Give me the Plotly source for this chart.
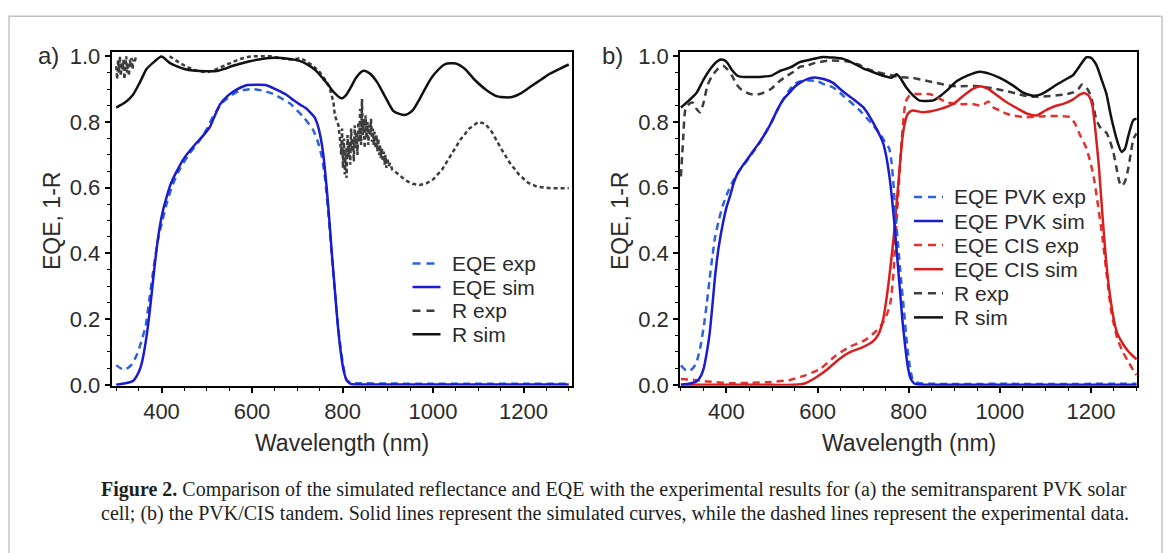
import plotly.graph_objects as go

W, H = 1168, 553

# ---------------- Panel a data ----------------
a_eqe_sim_wl = [300, 320, 337, 350, 357, 365, 372, 380, 388, 396, 404, 411, 420, 433, 450, 477, 493, 507, 518, 529,
                545, 558, 575, 588, 610, 632, 655, 676, 692, 706, 718, 728, 738, 746, 752, 757, 765, 771, 777, 783,
                789, 796, 803, 810, 818, 830, 900, 1000, 1100, 1200, 1300]
a_eqe_sim = [0.0, 0.005, 0.012, 0.04, 0.07, 0.13, 0.2, 0.3, 0.4, 0.48, 0.535, 0.57, 0.61, 0.648, 0.69, 0.736, 0.76,
             0.785, 0.82, 0.853, 0.878, 0.892, 0.905, 0.912, 0.913, 0.912, 0.898, 0.883, 0.866, 0.853, 0.843, 0.83,
             0.815, 0.787, 0.75, 0.707, 0.6, 0.5, 0.39, 0.29, 0.19, 0.1, 0.04, 0.012, 0.003, 0.001, 0.001, 0.001,
             0.001, 0.001, 0.001]

a_eqe_exp_wl = [300, 310, 320, 333, 345, 355, 365, 373, 382, 392, 402, 412, 425, 441, 460, 485, 499, 514, 536, 555,
                573, 603, 625, 647, 684, 713, 735, 746, 755, 762, 770, 777, 784, 790, 796, 802, 809, 820, 830, 900,
                1000, 1100, 1200, 1300]
a_eqe_exp = [0.06, 0.05, 0.047, 0.06, 0.09, 0.13, 0.18, 0.26, 0.35, 0.44, 0.5, 0.555, 0.61, 0.658, 0.70, 0.746,
             0.776, 0.817, 0.861, 0.882, 0.895, 0.90, 0.895, 0.885, 0.856, 0.816, 0.776, 0.737, 0.69, 0.62, 0.5,
             0.38, 0.27, 0.18, 0.11, 0.055, 0.015, 0.006, 0.005, 0.004, 0.003, 0.003, 0.003, 0.003]

a_r_sim_wl = [300, 320, 337, 352, 367, 381, 400, 418, 440, 460, 485, 522, 540, 558, 595, 640, 684, 705, 721, 740,
              757, 770, 780, 798, 808, 817, 830, 846, 860, 876, 895, 912, 927, 940, 955, 970, 990, 1003, 1027, 1050,
              1070, 1093, 1120, 1142, 1160, 1175, 1195, 1216, 1240, 1257, 1280, 1300]
a_r_sim = [0.844, 0.86, 0.883, 0.92, 0.961, 0.98, 0.999, 0.98, 0.966, 0.958, 0.955, 0.955, 0.962, 0.971, 0.985,
           0.995, 0.992, 0.986, 0.976, 0.958, 0.932, 0.91, 0.892, 0.872, 0.882, 0.902, 0.935, 0.956, 0.948, 0.922,
           0.875, 0.834, 0.824, 0.822, 0.835, 0.869, 0.92, 0.946, 0.976, 0.978, 0.962, 0.927, 0.895, 0.878, 0.875,
           0.876, 0.888, 0.908, 0.93, 0.946, 0.962, 0.975]

a_r_exp_wl = [300, 302, 304, 306, 308, 310, 312, 314, 316, 318, 320, 322, 324, 326, 328, 330, 332, 334, 336, 338,
              340, 343, 346, 380,
              418, 440, 460, 480, 500, 520, 545, 570, 590, 600, 640, 682, 698, 706, 720, 735, 750, 765, 772, 780,
              783, 791,
              795, 797, 799, 801, 803, 805, 807, 809, 811, 813, 815, 817, 819, 821, 823, 825, 827, 829, 831, 833,
              835, 837, 839, 841, 843, 845, 847, 849, 851, 853, 855, 857, 859, 861, 863, 865, 867, 869, 871, 873,
              875, 877, 879, 881, 883, 885, 887, 889, 891, 893, 895, 897, 899, 902, 905, 910,
              920, 930, 940, 955, 970, 985, 1000, 1020, 1040, 1060, 1080, 1100, 1115, 1130, 1150, 1170, 1190, 1210,
              1230, 1260, 1300]
a_r_exp = [0.97, 0.93, 0.99, 0.95, 1.0, 0.94, 0.98, 0.96, 0.99, 0.93, 0.97, 1.0, 0.95, 0.98, 0.94, 0.99, 0.97,
           0.995, 0.96, 0.99, 0.98, 0.995, 0.99, None,
           1.0, 0.98, 0.965, 0.955, 0.951, 0.96, 0.975, 0.99, 0.998, 1.0, 1.0, 0.99, 0.992, 0.995, 0.985, 0.971,
           0.951, 0.922, 0.902, 0.86, 0.82, 0.79,
           0.74, 0.70, 0.78, 0.66, 0.75, 0.64, 0.72, 0.63, 0.76, 0.69, 0.74, 0.67, 0.78, 0.71, 0.75, 0.68, 0.79,
           0.72, 0.77, 0.70, 0.80, 0.74, 0.84, 0.73, 0.87, 0.76, 0.81, 0.72, 0.82, 0.75, 0.80, 0.73, 0.79, 0.76,
           0.81, 0.74, 0.78, 0.73, 0.77, 0.72, 0.76, 0.71, 0.75, 0.70, 0.73, 0.69, 0.72, 0.68, 0.71, 0.67, 0.70,
           0.66, 0.69, 0.665, 0.675, 0.655,
           0.645, 0.632, 0.622, 0.612, 0.608, 0.613, 0.625, 0.655, 0.70, 0.745, 0.78, 0.80, 0.795, 0.77, 0.72,
           0.675, 0.64, 0.615, 0.603, 0.598, 0.598]

# ---------------- Panel b data ----------------
b_pvk_sim_wl = [300, 320, 334, 343, 350, 357, 363, 369, 375, 383, 392, 400, 408, 416, 425, 437, 449, 462, 474, 487,
                499, 511, 524, 539, 548, 561, 580, 598, 615, 634, 648, 663, 680, 700, 715, 729, 738, 744, 750, 755,
                759, 763, 768, 774, 780, 786, 792, 798, 804, 812, 825, 900, 1000, 1100, 1200, 1300]
b_pvk_sim = [0.0, 0.004, 0.01, 0.025, 0.05, 0.1, 0.156, 0.24, 0.33, 0.42, 0.49, 0.54, 0.575, 0.615, 0.645, 0.67,
             0.693, 0.718, 0.741, 0.77, 0.80, 0.835, 0.868, 0.89, 0.905, 0.919, 0.932, 0.935, 0.93, 0.919, 0.902,
             0.885, 0.868, 0.845, 0.815, 0.78, 0.755, 0.735, 0.70, 0.66, 0.62, 0.57, 0.50, 0.40, 0.30, 0.20, 0.12,
             0.055, 0.02, 0.004, 0.001, 0.0, 0.0, 0.0, 0.0, 0.0]

b_pvk_exp_wl = [300, 310, 318, 326, 334, 342, 350, 357, 363, 369, 375, 383, 392, 404, 416, 430, 449, 474, 499, 515,
                530, 548, 565, 581, 598, 614, 634, 656, 689, 722, 738, 750, 757, 762, 766, 771, 777, 783, 790, 796,
                802, 808, 815, 830, 1000, 1300]
b_pvk_exp = [0.059, 0.045, 0.042, 0.05, 0.068, 0.11, 0.176, 0.25, 0.322, 0.39, 0.449, 0.5, 0.546, 0.59, 0.624,
             0.655, 0.69, 0.74, 0.80, 0.845, 0.88, 0.915, 0.925, 0.926, 0.925, 0.915, 0.905, 0.88, 0.84, 0.79,
             0.761, 0.735, 0.72, 0.68, 0.62, 0.52, 0.42, 0.322, 0.22, 0.127, 0.06, 0.02, 0.008, 0.004, 0.003, 0.003]

b_cis_sim_wl = [300, 400, 500, 548, 573, 598, 623, 647, 672, 697, 722, 734, 744, 752, 760, 767, 774, 780, 786, 792,
                798, 808, 829, 846, 870, 898, 920, 940, 956, 975, 990, 1015, 1040, 1060, 1081, 1100, 1120, 1139,
                1160, 1175, 1185, 1195, 1203, 1210, 1217, 1225, 1233, 1241, 1250, 1258, 1270, 1280, 1290, 1300]
b_cis_sim = [0.0, 0.0, 0.0, 0.0, 0.005, 0.024, 0.049, 0.078, 0.10, 0.113, 0.133, 0.155, 0.2, 0.27, 0.36, 0.45,
             0.56, 0.66, 0.75, 0.80, 0.825, 0.835, 0.83, 0.832, 0.84, 0.855, 0.88, 0.90, 0.909, 0.90, 0.885, 0.86,
             0.84, 0.825, 0.82, 0.835, 0.848, 0.855, 0.868, 0.883, 0.888, 0.88, 0.85, 0.77, 0.67, 0.52, 0.38, 0.28,
             0.2, 0.156, 0.125, 0.105, 0.09, 0.078]

b_cis_exp_wl = [300, 330, 360, 408, 450, 491, 540, 573, 606, 639, 672, 705, 730, 746, 759, 766, 771, 777, 783, 788,
                793, 800, 809, 830, 846, 862, 883, 905, 920, 940, 956, 966, 975, 986, 1000, 1015, 1029, 1050, 1068,
                1090, 1109, 1130, 1154, 1165, 1176, 1190, 1205, 1215, 1225, 1235, 1245, 1258, 1270, 1283, 1295, 1300]
b_cis_exp = [0.018, 0.015, 0.01, 0.005, 0.006, 0.008, 0.015, 0.029, 0.049, 0.088, 0.117, 0.137, 0.166, 0.195,
             0.244, 0.33, 0.45, 0.58, 0.712, 0.80, 0.86, 0.878, 0.885, 0.885, 0.885, 0.875, 0.86, 0.855, 0.854,
             0.855, 0.85, 0.855, 0.862, 0.844, 0.835, 0.825, 0.82, 0.815, 0.815, 0.817, 0.818, 0.818, 0.815, 0.795,
             0.76, 0.72, 0.64, 0.55, 0.45, 0.33, 0.22, 0.14, 0.1, 0.068, 0.039, 0.03]

b_r_sim_wl = [300, 315, 334, 350, 367, 380, 388, 395, 403, 412, 425, 440, 458, 480, 499, 517, 540, 561, 585, 612,
              635, 656, 680, 700, 725, 751, 763, 773, 781, 795, 810, 824, 840, 854, 870, 887, 905, 930, 956, 975,
              1000, 1030, 1050, 1073, 1090, 1110, 1125, 1145, 1161, 1175, 1190, 1200, 1212, 1223, 1234, 1242, 1249,
              1258, 1267, 1275, 1282, 1293, 1300]
b_r_sim = [0.844, 0.862, 0.888, 0.93, 0.966, 0.985, 0.99, 0.988, 0.978, 0.958, 0.94, 0.937, 0.937, 0.938, 0.941,
           0.955, 0.966, 0.982, 0.99, 0.998, 0.996, 0.992, 0.978, 0.963, 0.95, 0.938, 0.935, 0.945, 0.935, 0.904,
           0.88, 0.865, 0.864, 0.866, 0.88, 0.9, 0.924, 0.942, 0.953, 0.948, 0.934, 0.91, 0.89, 0.88, 0.884, 0.9,
           0.914, 0.93, 0.943, 0.97, 0.997, 0.995, 0.973, 0.93, 0.885, 0.83, 0.787, 0.74, 0.709, 0.72, 0.758, 0.806,
           0.81]

b_r_exp_wl = [300, 305, 310, 318, 326, 334, 342, 350, 358, 367, 380, 392, 402, 412, 422, 433, 450, 466, 483, 499,
              517, 532, 550, 561, 573, 595, 627, 663, 690, 707, 730, 759, 779, 809, 830, 861, 883, 905, 956, 985,
              1015, 1040, 1066, 1090, 1117, 1140, 1161, 1172, 1180, 1190, 1198, 1205, 1212, 1222, 1234, 1242, 1249,
              1256, 1263, 1268, 1275, 1282, 1288, 1293, 1300]
b_r_exp = [0.634, 0.75, 0.839, 0.855, 0.859, 0.84, 0.829, 0.86, 0.91, 0.937, 0.96, 0.971, 0.96, 0.941, 0.915,
           0.898, 0.886, 0.883, 0.89, 0.902, 0.925, 0.94, 0.955, 0.968, 0.97, 0.98, 0.987, 0.985, 0.975, 0.963,
           0.952, 0.943, 0.937, 0.934, 0.928, 0.919, 0.912, 0.909, 0.909, 0.902, 0.894, 0.885, 0.877, 0.877, 0.88,
           0.883, 0.89, 0.9, 0.914, 0.905, 0.885, 0.85, 0.806, 0.78, 0.767, 0.74, 0.709, 0.66, 0.615, 0.605, 0.62,
           0.66, 0.71, 0.748, 0.765]

# ---------------- text ----------------
x_title = "Wavelength (nm)"
y_title = "EQE, 1-R"
legend_a = ["EQE exp", "EQE sim", "R exp", "R sim"]
legend_b = ["EQE PVK exp", "EQE PVK sim", "EQE CIS exp", "EQE CIS sim", "R exp", "R sim"]
caption_1 = ("<b>Figure 2.</b> Comparison of the simulated reflectance and EQE with the experimental results "
             "for (a) the semitransparent PVK solar")
caption_2 = ("cell; (b) the PVK/CIS tandem. Solid lines represent the simulated curves, while the dashed lines "
             "represent the experimental data.")

# ---------------- styles ----------------
BLUE_S, BLUE_D = "#1a1ccd", "#2e62da"
RED_S, RED_D = "#d71f1f", "#e2322f"
BLACK_S, GRAY_D = "#111111", "#3d3d3d"
LW = 2.5
DASH = "7px,5px"
DOTDASH = "4px,3px"
SANS = "Liberation Sans, Arial, sans-serif"
SERIF = "Liberation Serif, Times New Roman, serif"
TXT = "#2b2b2b"


def px(x):
    return x / W


def py(y):
    return 1 - y / H


fig = go.Figure()


def add(xv, yv, color, dash, xa, ya, shape="spline"):
    fig.add_trace(go.Scatter(x=xv, y=yv, mode="lines", xaxis=xa, yaxis=ya, showlegend=False,
                             hoverinfo="skip", connectgaps=False,
                             line=dict(color=color, width=LW, dash=dash, shape=shape, smoothing=0.6)))


# panel a
add(a_r_exp_wl, a_r_exp, GRAY_D, DOTDASH, "x", "y", shape="linear")
add(a_r_sim_wl, a_r_sim, BLACK_S, "solid", "x", "y")
add(a_eqe_exp_wl, a_eqe_exp, BLUE_D, DASH, "x", "y")
add(a_eqe_sim_wl, a_eqe_sim, BLUE_S, "solid", "x", "y")

# panel b
add(b_r_exp_wl, b_r_exp, GRAY_D, DASH, "x2", "y2")
add(b_r_sim_wl, b_r_sim, BLACK_S, "solid", "x2", "y2")
add(b_cis_exp_wl, b_cis_exp, RED_D, DASH, "x2", "y2")
add(b_cis_sim_wl, b_cis_sim, RED_S, "solid", "x2", "y2")
add(b_pvk_exp_wl, b_pvk_exp, BLUE_D, DASH, "x2", "y2")
add(b_pvk_sim_wl, b_pvk_sim, BLUE_S, "solid", "x2", "y2")

tickfont = dict(family=SANS, size=22, color=TXT)
common_x = dict(tickmode="array", tickvals=[400, 600, 800, 1000, 1200], ticks="outside", ticklen=5,
                tickwidth=1.5, tickcolor="black", showline=True, linecolor="black", linewidth=1.5,
                mirror=True, showgrid=False, zeroline=False, tickfont=tickfont,
                minor=dict(dtick=50, tick0=0, ticks="outside", ticklen=3, tickwidth=1.2, tickcolor="black",
                           showgrid=False))
common_y = dict(tickmode="array", tickvals=[0, 0.2, 0.4, 0.6, 0.8, 1.0],
                ticktext=["0.0", "0.2", "0.4", "0.6", "0.8", "1.0"],
                ticks="outside", ticklen=5, tickwidth=1.5, tickcolor="black", showline=True,
                linecolor="black", linewidth=1.5, mirror=True, showgrid=False, zeroline=False,
                tickfont=tickfont,
                minor=dict(dtick=0.05, tick0=0, ticks="outside", ticklen=3, tickwidth=1.2, tickcolor="black",
                           showgrid=False))

ydom = [py(392), py(46)]
fig.update_layout(
    width=W, height=H, margin=dict(l=0, r=0, t=0, b=0),
    paper_bgcolor="white", plot_bgcolor="white", showlegend=False,
    xaxis=dict(domain=[px(111.5), px(571.5)], range=[289.5, 1306], anchor="y", **common_x),
    yaxis=dict(domain=ydom, range=[-0.003, 1.012], anchor="x", **common_y),
    xaxis2=dict(domain=[px(680), px(1137)], range=[298, 1301], anchor="y2", **common_x),
    yaxis2=dict(domain=ydom, range=[-0.003, 1.012], anchor="x2", **common_y),
)

shapes = []
annotations = []


def note(x, y, text, size=21, family=SANS, xanchor="center", angle=0, color=TXT):
    annotations.append(dict(x=px(x), y=py(y), xref="paper", yref="paper", text=text, showarrow=False,
                            xanchor=xanchor, yanchor="middle", textangle=angle,
                            font=dict(family=family, size=size, color=color)))


# outer frame of the figure
shapes.append(dict(type="rect", xref="paper", yref="paper", x0=px(9), x1=px(1162), y0=py(575), y1=py(8.5),
                   line=dict(color="#c4c4c4", width=1.5), fillcolor="rgba(0,0,0,0)", layer="below"))

# panel labels
note(48.5, 49, "a)", size=24)
note(612, 49, "b)", size=24)

# axis titles
for xc in (52, 620):
    note(xc, 221, y_title, size=23, angle=-90)
for xc in (341.5, 908.5):
    note(xc, 451, x_title, size=23)

# legends (drawn)
leg_a_styles = [(BLUE_D, "8px,6px"), (BLUE_S, "solid"), (GRAY_D, "8px,6px"), (BLACK_S, "solid")]
leg_a_rows = [265, 289.5, 314, 338.5]
for (col, dsh), yy, txt in zip(leg_a_styles, leg_a_rows, legend_a):
    shapes.append(dict(type="line", xref="paper", yref="paper", x0=px(412.5), x1=px(440.5), y0=py(yy), y1=py(yy),
                       line=dict(color=col, width=2.5, dash=dsh)))
    note(450, yy, txt, xanchor="left")

leg_b_styles = [(BLUE_D, "8px,6px"), (BLUE_S, "solid"), (RED_D, "8px,6px"), (RED_S, "solid"),
                (GRAY_D, "8px,6px"), (BLACK_S, "solid")]
leg_b_rows = [196, 221, 246, 271, 296, 321]
for (col, dsh), yy, txt in zip(leg_b_styles, leg_b_rows, legend_b):
    shapes.append(dict(type="line", xref="paper", yref="paper", x0=px(914), x1=px(943), y0=py(yy), y1=py(yy),
                       line=dict(color=col, width=2.5, dash=dsh)))
    note(952, yy, txt, xanchor="left")

# caption
note(99, 500, caption_1, size=20, family=SERIF, xanchor="left", color="#1e1e1e")
note(99, 524, caption_2, size=20, family=SERIF, xanchor="left", color="#1e1e1e")

fig.update_layout(shapes=shapes, annotations=annotations)
fig.write_html("out.html")
